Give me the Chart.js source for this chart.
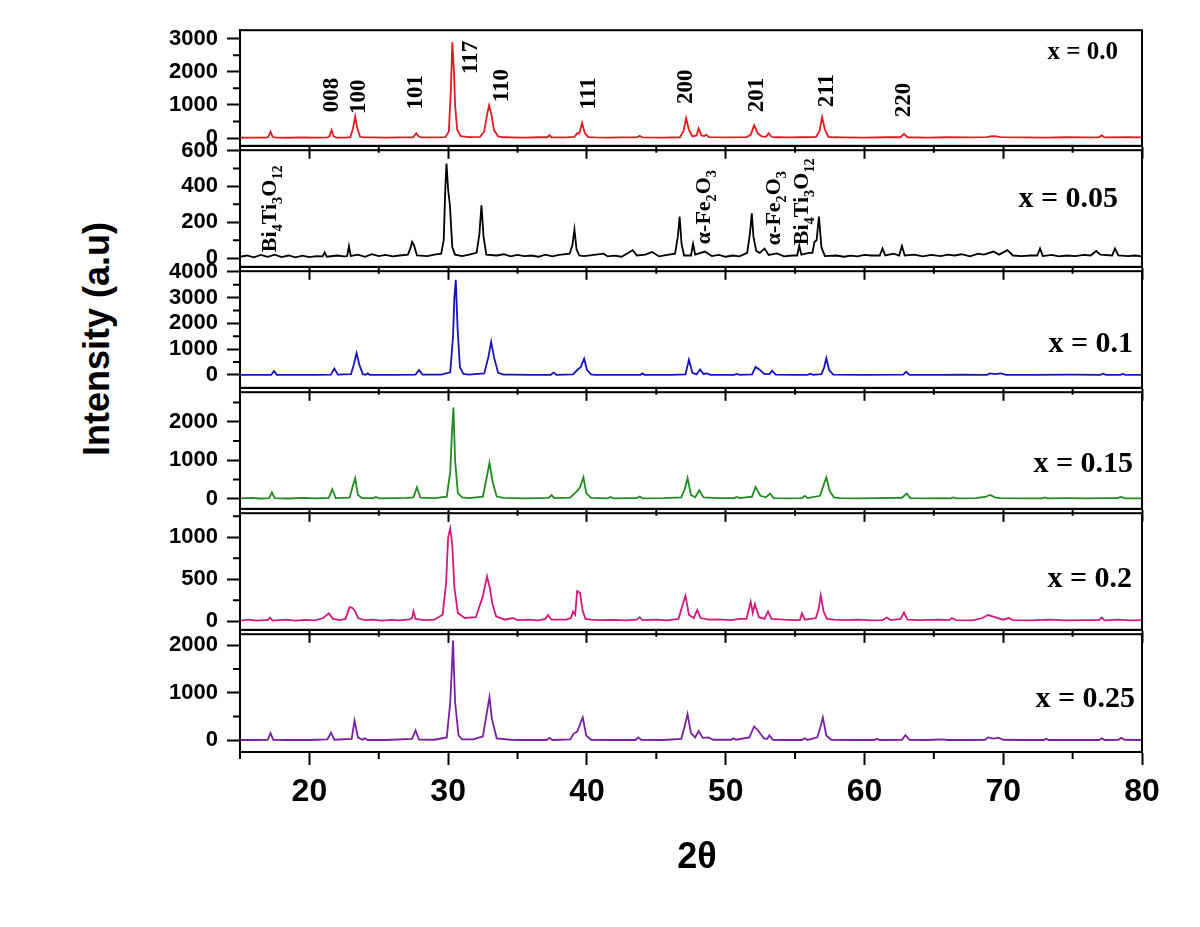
<!DOCTYPE html>
<html>
<head>
<meta charset="utf-8">
<script src="https://cdn.jsdelivr.net/npm/chart.js@4.4.1/dist/chart.umd.min.js"></script>
<style>
html, body { margin: 0; padding: 0; background: #fff; }
#wrap { position: relative; width: 1200px; height: 927px; overflow: hidden; }
#wrap canvas { position: absolute; left: 0; }
#ytitle {
    position: absolute; left: 97px; top: 339px;
    transform: translate(-50%, -50%) rotate(-90deg);
    font: bold 36px "Liberation Sans", Arial, sans-serif;
    white-space: nowrap; color: #000;
}
</style>
</head>
<body>
<div id="wrap"><div id="ytitle">Intensity (a.u)</div></div>
<script>
// tick values on the 2θ axis
var xMajor = [20, 30, 40, 50, 60, 70, 80];
var xMinor = [15, 25, 35, 45, 55, 65, 75];

var samples = ['x = 0.0', 'x = 0.05', 'x = 0.1', 'x = 0.15', 'x = 0.2', 'x = 0.25'];

// [2θ, intensity]
var x000 = [[15,10],[16,15],[16.9,15],[17.05,40],[17.2,195],[17.35,40],[17.6,15],[18.5,10],[19.5,20],[20.5,15],[21.3,20],[21.45,60],[21.6,240],[21.75,50],[21.95,15],[22.6,15],[22.95,30],[23.15,300],[23.3,650],[23.45,300],[23.65,40],[23.9,20],[24.5,20],[25.5,15],[26.5,20],[27.45,25],[27.6,90],[27.7,145],[27.85,60],[28.05,20],[29,20],[29.8,30],[30.05,200],[30.2,1500],[30.3,2890],[30.42,2000],[30.5,1000],[30.65,250],[30.9,60],[31.5,30],[32.3,40],[32.6,200],[32.8,700],[32.95,990],[33.1,750],[33.3,250],[33.6,50],[34.0,25],[34.5,20],[35.5,15],[36.5,25],[37.15,25],[37.3,90],[37.45,25],[38.6,20],[39.1,40],[39.3,150],[39.45,140],[39.65,455],[39.85,150],[40.1,30],[40.6,20],[41.5,15],[42.5,20],[43.6,20],[43.8,70],[44.0,20],[45.5,15],[46.7,25],[46.95,200],[47.15,600],[47.35,250],[47.6,50],[47.9,80],[48.05,290],[48.25,80],[48.45,60],[48.6,100],[48.8,30],[50.0,20],[51.5,30],[51.8,100],[52.05,390],[52.3,150],[52.6,50],[52.9,40],[53.1,145],[53.3,40],[53.6,25],[54.5,20],[55.5,25],[56.5,30],[56.75,200],[56.95,630],[57.15,250],[57.4,40],[57.8,25],[58.5,20],[60,15],[61.5,25],[62.6,25],[62.85,125],[63.1,25],[64.5,15],[66,25],[67.5,20],[68.8,30],[69.2,60],[69.5,50],[69.8,30],[71.5,20],[73,15],[74.5,25],[76,20],[76.9,25],[77.1,80],[77.3,20],[79,25],[80,20]];

var x005 = [[15,8],[15.5,15],[16,5],[16.5,18],[17,8],[17.5,20],[18,6],[18.5,15],[19,5],[19.5,14],[20,6],[20.5,12],[20.95,10],[21.1,32],[21.25,8],[22,15],[22.5,10],[22.72,12],[22.85,68],[22.98,12],[23.5,20],[24,8],[24.5,22],[25,12],[25.5,18],[26,10],[26.5,15],[27.1,20],[27.3,60],[27.4,91],[27.55,70],[27.75,15],[28.5,12],[29,20],[29.5,25],[29.68,100],[29.8,400],[29.88,527],[30.0,380],[30.12,300],[30.3,60],[30.5,20],[31,12],[31.5,20],[32.05,30],[32.25,134],[32.4,295],[32.55,120],[32.75,20],[33.5,15],[34,22],[34.5,10],[35,18],[35.5,12],[36,15],[36.5,8],[37.0,20],[37.5,10],[38,18],[38.75,25],[38.95,70],[39.1,160],[39.25,50],[39.45,15],[39.8,12],[40.5,18],[41.2,25],[41.5,10],[42,14],[42.5,8],[43.0,30],[43.3,45],[43.6,15],[44.2,20],[44.7,35],[45.2,10],[45.8,18],[46.35,25],[46.55,120],[46.68,232],[46.82,80],[47.0,15],[47.5,15],[47.65,80],[47.8,20],[48.5,37],[49,12],[49.5,18],[50,8],[50.5,15],[51,10],[51.55,30],[51.75,140],[51.88,250],[52.0,120],[52.2,40],[52.45,30],[52.8,54],[53.1,18],[53.7,27],[54.2,10],[54.8,15],[55.15,15],[55.3,71],[55.45,20],[56.0,30],[56.25,30],[56.4,91],[56.55,100],[56.72,232],[56.9,60],[57.15,12],[58,15],[58.5,8],[59,14],[59.5,10],[60,18],[60.5,15],[61.1,15],[61.3,54],[61.5,15],[62.1,25],[62.5,15],[62.7,68],[62.9,15],[63.6,20],[64.2,10],[64.8,18],[65.5,12],[66,20],[66.5,15],[67,22],[67.6,10],[68.2,25],[68.6,20],[69.3,37],[69.7,20],[70.3,45],[70.7,15],[71.3,12],[72,15],[72.45,15],[72.65,54],[72.85,12],[73.5,18],[74,10],[74.6,15],[75.2,12],[75.8,18],[76.3,15],[76.7,40],[77.0,20],[77.85,15],[78.05,54],[78.3,15],[79,12],[79.5,15],[80,10]];

var x010 = [[15,5],[16,5],[17.25,5],[17.45,150],[17.65,5],[19,5],[20.5,5],[21.55,10],[21.8,250],[22.05,10],[23.0,30],[23.2,400],[23.4,850],[23.6,400],[23.85,30],[24.05,10],[24.2,60],[24.35,5],[26,5],[27.65,15],[27.9,190],[28.15,15],[29.5,10],[30.15,100],[30.35,1500],[30.45,3000],[30.55,3690],[30.68,1800],[30.85,300],[31.1,40],[31.5,10],[32.6,60],[32.9,700],[33.1,1280],[33.3,700],[33.6,80],[34.0,15],[34.5,10],[36,5],[37.4,5],[37.6,90],[37.8,5],[39.0,20],[39.35,220],[39.55,300],[39.8,630],[40.0,200],[40.3,20],[40.6,5],[42,5],[43.85,5],[44.0,60],[44.15,5],[46,5],[47.1,20],[47.35,590],[47.6,80],[47.9,20],[48.15,210],[48.4,40],[48.65,60],[48.9,5],[50.6,5],[50.8,40],[51.0,5],[51.9,20],[52.15,310],[52.45,200],[52.8,30],[53.15,30],[53.35,165],[53.6,10],[55,5],[55.9,5],[56.1,50],[56.3,5],[56.9,30],[57.1,300],[57.25,650],[57.45,200],[57.75,10],[60,5],[62.8,10],[63.0,125],[63.25,5],[65.5,5],[67,15],[68.5,5],[68.85,5],[69.05,60],[69.4,30],[69.85,60],[70.2,5],[72,5],[75,10],[77.0,5],[77.2,50],[77.4,5],[78.45,5],[78.6,40],[78.8,5],[80,5]];

var x015 = [[15,15],[15.8,25],[16.5,10],[17.1,20],[17.3,170],[17.5,20],[18.5,10],[19.5,25],[20.5,15],[21.4,25],[21.65,250],[21.9,20],[22.9,30],[23.1,300],[23.3,535],[23.5,100],[23.8,20],[24.6,20],[24.8,50],[25.0,15],[26,20],[27,25],[27.5,40],[27.75,300],[28.0,30],[29,20],[29.9,60],[30.15,700],[30.28,1770],[30.38,2370],[30.5,1000],[30.7,150],[31.0,40],[31.5,20],[32.5,60],[32.8,600],[32.98,935],[33.2,450],[33.5,60],[34.0,25],[35.5,15],[36.5,20],[37.25,25],[37.45,100],[37.65,20],[38.8,30],[39.35,225],[39.5,300],[39.75,560],[39.95,150],[40.3,25],[41.5,15],[41.7,50],[41.9,15],[43,20],[43.6,20],[43.8,60],[44.0,15],[45.5,20],[46.8,40],[47.05,250],[47.25,540],[47.5,100],[47.8,40],[48.1,225],[48.4,40],[49.5,20],[50.6,20],[50.8,50],[51.0,20],[51.9,60],[52.15,310],[52.5,80],[52.9,40],[53.2,140],[53.45,20],[54.5,15],[55.5,20],[55.7,80],[55.9,20],[56.8,80],[57.05,350],[57.25,560],[57.5,200],[57.8,40],[58.2,20],[59.5,15],[61,20],[62.7,30],[63.05,140],[63.3,20],[64.5,15],[65.5,20],[66.2,15],[66.4,40],[66.6,15],[68,20],[68.7,50],[69.05,100],[69.4,40],[69.8,20],[71.5,15],[72.8,15],[73.0,40],[73.2,15],[74.5,20],[76,15],[77.5,20],[78.2,20],[78.5,50],[78.8,15],[80,15]];

var x020 = [[15,10],[15.6,20],[16.2,8],[16.8,15],[17.0,15],[17.16,45],[17.35,10],[18.3,20],[19,10],[19.7,18],[20.4,12],[21.0,40],[21.4,95],[21.7,30],[22.2,15],[22.6,30],[22.9,170],[23.1,160],[23.3,120],[23.5,40],[24,15],[24.6,20],[25.2,10],[25.9,18],[26.5,12],[27.2,25],[27.4,40],[27.5,120],[27.65,30],[28.3,15],[29.0,20],[29.6,80],[29.85,450],[30.0,1000],[30.15,1105],[30.3,900],[30.45,400],[30.7,100],[31.2,40],[32.0,50],[32.5,300],[32.8,535],[33.0,400],[33.2,200],[33.45,60],[34.1,20],[34.65,40],[35,15],[35.8,20],[36.5,12],[37.0,30],[37.2,75],[37.45,20],[38.5,20],[38.85,40],[39.0,115],[39.15,80],[39.3,360],[39.5,340],[39.7,120],[39.9,30],[40.3,20],[41,15],[42,18],[42.8,12],[43.6,20],[43.8,50],[44.0,15],[45,20],[45.8,12],[46.6,30],[46.9,200],[47.1,305],[47.35,80],[47.7,40],[47.95,135],[48.2,40],[48.8,20],[49.5,25],[50.4,15],[51.0,30],[51.5,30],[51.8,235],[51.95,100],[52.1,205],[52.4,50],[52.8,30],[53.05,120],[53.3,30],[54.2,20],[55.0,15],[55.35,15],[55.5,95],[55.7,20],[56.5,40],[56.7,150],[56.85,310],[57.05,120],[57.3,30],[57.8,20],[58.6,15],[59.5,20],[60.5,12],[61.3,15],[61.6,45],[61.9,15],[62.6,30],[62.85,105],[63.1,20],[64,15],[65.3,20],[66.1,15],[66.3,40],[66.6,15],[67.8,12],[68.5,40],[68.9,75],[69.4,50],[70.0,20],[70.4,40],[70.7,15],[72,12],[73.3,20],[74.5,12],[75.8,15],[76.9,15],[77.1,45],[77.3,12],[78.3,20],[79.2,12],[80,15]];

var x025 = [[15,5],[16,5],[17.0,10],[17.2,150],[17.4,10],[18.5,5],[20,5],[21.3,20],[21.56,160],[21.8,10],[23.05,30],[23.25,415],[23.5,60],[23.8,10],[24.0,40],[24.2,5],[25.5,5],[27.4,30],[27.65,205],[27.9,15],[29.0,10],[29.9,60],[30.15,800],[30.25,1410],[30.35,2100],[30.5,800],[30.75,100],[31.0,20],[31.8,20],[32.5,80],[32.8,600],[32.98,910],[33.15,450],[33.5,40],[34.5,10],[35.5,5],[37.1,5],[37.3,50],[37.5,5],[38.8,20],[39.05,140],[39.3,180],[39.7,480],[39.95,100],[40.3,10],[42,5],[43.5,5],[43.7,60],[43.9,10],[45.5,5],[46.8,30],[47.05,300],[47.25,550],[47.5,150],[47.8,60],[48.05,195],[48.35,50],[48.75,60],[49.1,10],[50.4,10],[50.55,40],[50.75,10],[51.7,60],[52.05,290],[52.35,200],[52.75,40],[53.0,30],[53.15,105],[53.4,10],[54.5,5],[55.5,5],[55.7,40],[55.9,5],[56.6,60],[56.85,300],[57.0,480],[57.25,100],[57.6,10],[59.5,5],[60.7,5],[60.9,30],[61.1,5],[62.7,10],[62.95,105],[63.25,10],[64.5,5],[65.6,20],[66,5],[67.5,5],[68.7,10],[68.9,60],[69.3,35],[69.65,55],[70.0,10],[71.5,5],[72.9,5],[73.1,30],[73.3,5],[75.5,5],[76.9,5],[77.1,40],[77.3,5],[78.3,10],[78.5,50],[78.75,10],[80,5]];

var series = [x000, x005, x010, x015, x020, x025];

// y ticks of each panel
var yMajor = [[0,1000,2000,3000],[0,200,400,600],[0,1000,2000,3000,4000],[0,1000,2000],[0,500,1000],[0,1000,2000]];
var yMinor = [[500,1500,2500],[100,300,500],[500,1500,2500,3500],[500,1500,2500],[250,750,1250],[500,1500]];
var yRanges = [[-232,3252],[-48,602],[-499,4026],[-257,2767],[-100,1286],[-248,2234]];

// peak indexing (top panel) and secondary phases (x = 0.05)
var hklLabels = ['008','100','101','117','110','111','200','201','211','220'];
var hklAngles = [22.06, 24.0, 28.1, 32.06, 34.3, 40.6, 47.6, 52.7, 57.75, 63.3];
var phaseLabels = [
    [['Bi',0],['4',1],['Ti',0],['3',1],['O',0],['12',1]],
    [['\u03b1-Fe',0],['2',1],['O',0],['3',1]],
    [['\u03b1-Fe',0],['2',1],['O',0],['3',1]],
    [['Bi',0],['4',1],['Ti',0],['3',1],['O',0],['12',1]]
];
var phaseAngles = [17.6, 48.87, 53.91, 55.93];

// layout / styling
var panelTops = [28, 148, 269, 390, 511, 632, 752];
var colors = ['#e3191f', '#000000', '#1414b8', '#218a21', '#d4197c', '#7a1fa0'];
var sampleRight = [24, 24, 9, 9, 10, 7];
var sampleBase = [28.7, 57, 81, 80, 74, 73];
var sampleSize = [25, 30, 30, 30, 30, 30];
var hklBottom = [82, 83.7, 79.3, 43.7, 72, 79.3, 73.7, 82, 77, 87];
var phaseBottom = [102, 94, 95, 95];

var SANS = '"Liberation Sans", Arial, sans-serif';
var SERIF = '"Liberation Serif", "Times New Roman", serif';

function drawUp(ctx, parts, px, py, size) {
    ctx.save();
    ctx.translate(px, py);
    ctx.rotate(-Math.PI / 2);
    ctx.textAlign = 'left';
    ctx.textBaseline = 'alphabetic';
    ctx.fillStyle = '#000';
    var pos = 0;
    parts.forEach(function(p) {
        var fs = p[1] ? size * 0.65 : size;
        ctx.font = 'bold ' + fs + 'px ' + SERIF;
        ctx.fillText(p[0], pos, p[1] ? size * 0.28 : 0);
        pos += ctx.measureText(p[0]).width;
    });
    ctx.restore();
}

var frame = {
    id: 'frame',
    afterDraw: function(chart, args, opts) {
        var ctx = chart.ctx, a = chart.chartArea;
        var sx = chart.scales.x, sy = chart.scales.y;
        var i = opts.idx;
        ctx.save();
        ctx.strokeStyle = '#000';
        ctx.lineWidth = 2;
        ctx.strokeRect(a.left, a.top, a.right - a.left, a.bottom - a.top);
        ctx.beginPath();
        xMinor.forEach(function(v) {
            var px = sx.getPixelForValue(v);
            ctx.moveTo(px, a.bottom);
            ctx.lineTo(px, a.bottom + 7);
        });
        yMinor[i].forEach(function(v) {
            var py = sy.getPixelForValue(v);
            ctx.moveTo(a.left - 7, py);
            ctx.lineTo(a.left, py);
        });
        ctx.stroke();

        ctx.fillStyle = '#000';
        ctx.textAlign = 'right';
        ctx.textBaseline = 'alphabetic';
        ctx.font = 'bold ' + sampleSize[i] + 'px ' + SERIF;
        ctx.fillText(samples[i], a.right - sampleRight[i], a.top + sampleBase[i]);

        if (i === 0) {
            hklLabels.forEach(function(t, k) {
                drawUp(ctx, [[t, 0]], sx.getPixelForValue(hklAngles[k]), a.top + hklBottom[k], 23);
            });
        }
        if (i === 1) {
            phaseLabels.forEach(function(parts, k) {
                drawUp(ctx, parts, sx.getPixelForValue(phaseAngles[k]), a.top + phaseBottom[k], 22);
            });
        }
        if (opts.last) {
            ctx.textAlign = 'center';
            ctx.textBaseline = 'middle';
            ctx.font = 'bold 36px ' + SANS;
            ctx.fillText('2\u03b8', (a.left + a.right) / 2 + 6, 858 - chart.canvas.offsetTop);
        }
        ctx.restore();
    }
};

var wrap = document.getElementById('wrap');

series.forEach(function(pts, i) {
    var last = i === series.length - 1;
    var top = panelTops[i] - 20;
    var h = last ? 927 - top : panelTops[i + 1] - panelTops[i] + 40;
    var cv = document.createElement('canvas');
    cv.width = 1200;
    cv.height = h;
    cv.style.top = top + 'px';
    wrap.appendChild(cv);

    new Chart(cv, {
        type: 'scatter',
        data: {
            datasets: [{
                label: samples[i],
                data: pts.map(function(p) { return {x: p[0], y: p[1]}; }),
                showLine: true,
                borderColor: colors[i],
                backgroundColor: colors[i],
                borderWidth: 1.8,
                pointRadius: 0,
                tension: 0
            }]
        },
        options: {
            responsive: false,
            animation: false,
            devicePixelRatio: 1,
            layout: {padding: {left: 0, right: 58, top: 20, bottom: last ? 0 : 7}},
            plugins: {
                legend: {display: false},
                tooltip: {enabled: false},
                frame: {idx: i, last: last}
            },
            scales: {
                x: {
                    type: 'linear',
                    position: 'bottom',
                    min: 15,
                    max: 80,
                    afterBuildTicks: function(s) { s.ticks = xMajor.map(function(v) { return {value: v}; }); },
                    afterFit: function(s) { s.height = last ? 175 : 13; },
                    ticks: {
                        display: last,
                        autoSkip: false,
                        maxRotation: 0,
                        padding: 8,
                        color: '#000',
                        font: {family: SANS, weight: 'bold', size: 32},
                        callback: function(v) { return String(v); }
                    },
                    grid: {drawOnChartArea: false, drawTicks: true, tickLength: 13, tickWidth: 2, tickColor: '#000'},
                    border: {display: true, color: '#000', width: 2}
                },
                y: {
                    type: 'linear',
                    min: yRanges[i][0],
                    max: yRanges[i][1],
                    afterBuildTicks: function(s) { s.ticks = yMajor[i].map(function(v) { return {value: v}; }); },
                    afterFit: function(s) { s.width = 240; },
                    ticks: {
                        autoSkip: false,
                        padding: 9,
                        color: '#000',
                        font: {family: SANS, weight: 'bold', size: 22},
                        callback: function(v) { return String(v); }
                    },
                    grid: {drawOnChartArea: false, drawTicks: true, tickLength: 13, tickWidth: 2, tickColor: '#000'},
                    border: {display: true, color: '#000', width: 2}
                }
            }
        },
        plugins: [frame]
    });
});
</script>
</body>
</html>
